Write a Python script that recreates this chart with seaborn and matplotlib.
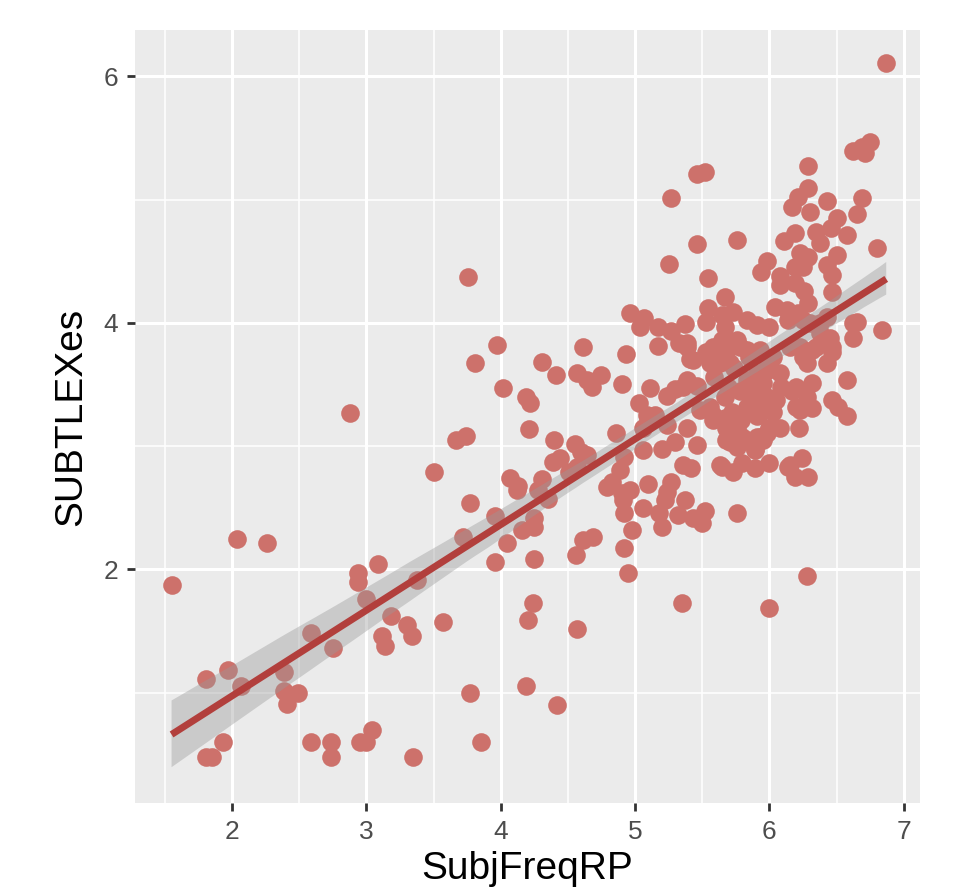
import matplotlib
matplotlib.use("Agg")
import matplotlib.pyplot as plt
import seaborn as sns
import pandas as pd

# values
subj_freq = [
    1.55, 2.04, 2.26, 2.88, 3.67, 3.74, 3.50, 4.02, 4.19, 4.22, 4.21, 4.07, 4.13, 4.12,
    3.77, 3.96, 3.72, 4.16, 4.05, 3.96, 2.94, 2.94, 3.09, 3.38, 3.00, 3.18, 3.30, 3.34,
    3.12, 3.14, 3.57, 2.59, 2.75, 1.81, 1.97, 2.07, 2.39, 2.39, 2.49, 2.41, 3.77, 4.19,
    1.93, 1.81, 1.85, 2.59, 2.74, 2.74, 2.95, 3.00, 3.04, 3.35, 3.85, 4.20, 4.24, 4.25,
    4.42, 4.57, 5.35, 6.00, 6.28,
    4.96, 5.07, 5.04, 5.17, 5.37, 5.27, 5.33, 5.39, 5.41, 5.17, 4.61, 4.93, 3.97, 3.81,
    4.31, 4.41, 4.57, 4.64, 4.68, 4.75, 4.90, 5.11, 5.24, 5.30, 5.39, 5.36, 5.46, 5.03,
    5.09, 5.15, 5.24, 5.39, 4.86, 4.40, 4.55, 4.60, 4.64, 5.06, 5.20, 5.30, 5.46, 4.39,
    4.44, 4.51, 4.57, 4.92, 4.89, 5.36, 5.42, 4.31, 4.28, 4.35, 4.79, 4.83, 4.90, 4.96,
    4.91, 5.10, 5.27, 5.24, 5.22, 5.37, 4.25, 4.25, 4.92, 5.06, 5.18, 5.20, 5.32, 5.43,
    4.98, 4.61, 4.69, 4.56, 4.92, 4.95,
    6.87, 6.75, 6.69, 6.62, 6.71, 6.29, 5.46, 5.52, 6.29, 6.21, 6.17, 6.30, 6.43, 6.69,
    6.65, 5.27, 6.50, 6.35, 6.46, 6.38, 6.58, 6.19, 6.11, 5.46, 5.76, 6.80, 6.23, 6.29,
    6.25, 6.19, 6.50, 6.43, 6.47, 5.98, 5.94, 5.25, 5.54, 6.08, 6.08, 6.19, 6.26, 6.29,
    6.47, 5.67, 5.54, 5.53, 5.65, 5.73, 5.67, 5.83, 5.91, 6.00, 6.04, 6.13, 6.14, 6.21,
    6.25, 6.38, 6.43, 6.45, 6.65, 6.84, 6.62,
    6.30, 6.38, 5.53, 5.61, 5.56, 5.65, 5.76, 5.83, 5.71, 5.93, 6.03, 5.99, 6.08, 5.91,
    5.83, 6.23, 6.32, 6.40, 6.47, 6.28, 6.43, 6.58, 5.59, 5.69, 5.67, 5.78, 5.85, 5.95,
    5.98, 6.09, 6.05, 5.91, 5.83, 6.20, 6.32, 6.28, 6.23, 6.32, 6.47, 6.51, 6.58, 5.10,
    5.06, 5.48, 5.58, 5.67, 5.72, 5.79, 5.76, 5.93, 6.03, 6.08, 5.98, 6.22, 5.68, 5.76,
    5.83, 5.91, 5.89, 5.95, 5.65, 5.73, 5.80, 5.89, 6.00, 6.14, 6.19, 6.29, 6.24, 5.52,
    5.50, 5.76, 3.76,
    5.58, 5.68, 5.78, 5.85, 5.74, 5.91, 5.98, 5.88, 5.95, 6.00, 6.17, 6.20, 6.15, 6.25,
    6.35, 6.47, 5.58, 5.68, 5.91, 6.00, 5.71, 5.80, 5.93, 5.89, 5.63, 6.15, 5.56, 5.39,
    5.43, 5.63, 6.62,
]
subtlex = [
    1.87, 2.25, 2.21, 3.27, 3.05, 3.08, 2.79, 3.47, 3.40, 3.35, 3.14, 2.74, 2.68, 2.64,
    2.54, 2.43, 2.26, 2.32, 2.21, 2.06, 1.97, 1.90, 2.04, 1.91, 1.76, 1.62, 1.55, 1.46,
    1.46, 1.38, 1.57, 1.48, 1.36, 1.11, 1.18, 1.05, 1.17, 1.01, 1.00, 0.91, 1.00, 1.05,
    0.60, 0.48, 0.48, 0.60, 0.60, 0.48, 0.60, 0.60, 0.70, 0.48, 0.60, 1.59, 1.73, 2.08,
    0.90, 1.52, 1.73, 1.69, 1.95,
    4.08, 4.04, 3.97, 3.97, 3.99, 3.93, 3.84, 3.84, 3.71, 3.81, 3.80, 3.75, 3.82, 3.67,
    3.68, 3.58, 3.59, 3.54, 3.48, 3.58, 3.50, 3.47, 3.41, 3.46, 3.54, 3.48, 3.49, 3.35,
    3.25, 3.25, 3.17, 3.15, 3.11, 3.05, 3.02, 2.95, 2.93, 2.97, 2.98, 3.03, 3.01, 2.87,
    2.90, 2.79, 2.83, 2.91, 2.81, 2.85, 2.82, 2.73, 2.64, 2.57, 2.67, 2.71, 2.62, 2.64,
    2.56, 2.69, 2.71, 2.63, 2.56, 2.56, 2.42, 2.34, 2.46, 2.50, 2.46, 2.34, 2.44, 2.42,
    2.32, 2.24, 2.26, 2.12, 2.17, 1.97,
    6.11, 5.47, 5.43, 5.39, 5.38, 5.27, 5.21, 5.22, 5.09, 5.02, 4.94, 4.90, 4.99, 5.01,
    4.88, 5.01, 4.85, 4.74, 4.77, 4.65, 4.71, 4.73, 4.66, 4.64, 4.67, 4.61, 4.57, 4.53,
    4.45, 4.45, 4.55, 4.47, 4.39, 4.50, 4.41, 4.48, 4.36, 4.38, 4.31, 4.32, 4.26, 4.16,
    4.25, 4.21, 4.12, 4.01, 4.06, 4.09, 3.97, 4.02, 3.98, 3.97, 4.13, 4.10, 4.02, 4.08,
    4.02, 4.00, 4.05, 3.88, 4.01, 3.94, 3.88,
    4.00, 3.92, 3.76, 3.78, 3.67, 3.86, 3.86, 3.78, 3.67, 3.78, 3.72, 3.62, 3.59, 3.59,
    3.54, 3.80, 3.78, 3.84, 3.76, 3.67, 3.67, 3.54, 3.56, 3.48, 3.40, 3.45, 3.50, 3.51,
    3.40, 3.48, 3.37, 3.37, 3.32, 3.48, 3.51, 3.40, 3.29, 3.31, 3.37, 3.32, 3.24, 3.20,
    3.15, 3.29, 3.25, 3.23, 3.28, 3.21, 3.15, 3.27, 3.28, 3.15, 3.11, 3.15, 3.05, 2.99,
    3.05, 3.07, 2.98, 3.05, 2.83, 2.79, 2.86, 2.82, 2.86, 2.83, 2.75, 2.75, 2.90, 2.47,
    2.38, 2.46, 4.37,
    3.80, 3.76, 3.80, 3.72, 3.63, 3.54, 3.64, 3.43, 3.40, 3.32, 3.45, 3.32, 3.80, 3.72,
    3.80, 3.80, 3.21, 3.15, 3.24, 3.15, 3.03, 3.07, 3.07, 2.97, 2.85, 2.85, 3.32, 3.80,
    3.70, 3.67, 4.00,
]

df = pd.DataFrame({"SubjFreqRP": subj_freq, "SUBTLEXes": subtlex})

plt.rcParams["font.family"] = ["Liberation Sans", "DejaVu Sans"]

fig = plt.figure(figsize=(9.61, 8.91), dpi=100)
ax = fig.add_axes([0.1405, 0.0988, 0.8165, 0.8675])
ax.set_facecolor("#EBEBEB")

sns.regplot(
    data=df, x="SubjFreqRP", y="SUBTLEXes", ax=ax, seed=1,
    scatter_kws=dict(s=180, color="#CD716B", linewidths=0, alpha=1),
    line_kws=dict(color="#B23F3C", lw=5, solid_capstyle="butt"),
)

# ggplot-like grey confidence band
for coll in ax.collections[1:]:
    coll.set_alpha(None)
    coll.set_facecolor((0.6, 0.6, 0.6, 0.4))
    coll.set_edgecolor("none")

ax.set_xlim(1.278, 7.119)
ax.set_ylim(0.105, 6.375)
ax.set_xticks([2, 3, 4, 5, 6, 7])
ax.set_yticks([2, 4, 6])
ax.set_xticks([1.5, 2.5, 3.5, 4.5, 5.5, 6.5], minor=True)
ax.set_yticks([1, 3, 5], minor=True)
ax.set_axisbelow(True)
ax.grid(which="major", color="white", lw=2.2)
ax.grid(which="minor", color="white", lw=1.1)
ax.tick_params(which="major", length=6, width=2, color="#333333",
               labelsize=19, labelcolor="#4D4D4D", pad=6)
ax.tick_params(which="minor", length=0)
for s in ax.spines.values():
    s.set_visible(False)

ax.set_xlabel("SubjFreqRP", fontsize=28, color="black", labelpad=5)
ax.set_ylabel("SUBTLEXes", fontsize=28, color="black", labelpad=10)

fig.savefig("out.png", dpi=100, facecolor="white")
